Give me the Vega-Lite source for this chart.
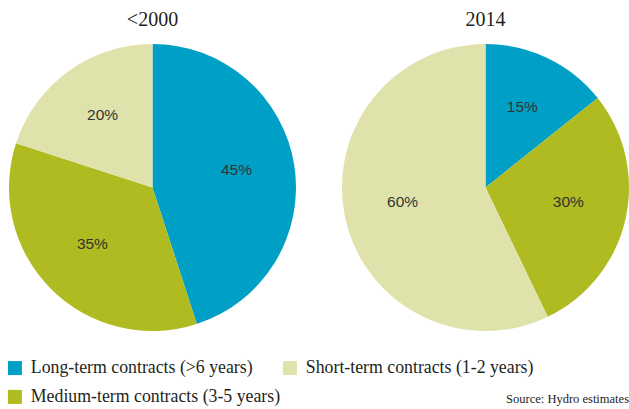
{
  "$schema": "https://vega.github.io/schema/vega-lite/v6.json",
  "background": "white",
  "padding": {"left": 6, "top": 10, "right": 0, "bottom": 0},
  "data": {"values": [
    {"period": "<2000", "category": "Long-term contracts (>6 years)", "value": 45, "label": "45%", "order": 1},
    {"period": "<2000", "category": "Medium-term contracts (3-5 years)", "value": 35, "label": "35%", "order": 2},
    {"period": "<2000", "category": "Short-term contracts (1-2 years)", "value": 20, "label": "20%", "order": 3},
    {"period": "2014", "category": "Long-term contracts (>6 years)", "value": 15, "label": "15%", "order": 1},
    {"period": "2014", "category": "Medium-term contracts (3-5 years)", "value": 30, "label": "30%", "order": 2},
    {"period": "2014", "category": "Short-term contracts (1-2 years)", "value": 60, "label": "60%", "order": 3}
  ]},
  "title": {"text": "Source: Hydro estimates", "orient": "bottom", "anchor": "end", "font": "Liberation Serif", "fontSize": 12.5, "fontWeight": "normal", "color": "#231f20", "offset": -13},
  "facet": {"column": {"field": "period", "type": "nominal", "sort": ["<2000", "2014"],
    "header": {"title": null, "labelFont": "Liberation Serif", "labelFontSize": 20, "labelColor": "#231f20", "labelPadding": 14}}},
  "spacing": 46,
  "resolve": {"scale": {"theta": "independent"}},
  "spec": {
    "width": 287,
    "height": 287,
    "encoding": {
      "theta": {"field": "value", "type": "quantitative", "stack": true},
      "order": {"field": "order", "type": "quantitative"}
    },
    "layer": [
      {"mark": {"type": "arc", "outerRadius": 143.5, "strokeWidth": 0},
       "encoding": {"color": {"field": "category", "type": "nominal",
         "scale": {"domain": ["Long-term contracts (>6 years)", "Short-term contracts (1-2 years)", "Medium-term contracts (3-5 years)"], "range": ["#00a0c6", "#dfe3ab", "#afbb20"]},
         "legend": {"title": null, "orient": "none", "legendX": -3, "legendY": 315, "direction": "horizontal", "columns": 2, "gridAlign": "each", "columnPadding": -26, "rowPadding": 10,
           "symbolType": "square", "symbolSize": 196, "symbolStrokeWidth": 0, "labelFont": "Liberation Serif", "labelFontSize": 17.8, "labelColor": "#231f20", "labelOffset": 7, "labelLimit": 400}}}},
      {"mark": {"type": "text", "radius": 85, "dy": -4, "font": "Liberation Sans", "fontSize": 15.5, "fill": "#333333"},
       "encoding": {"text": {"field": "label"}}}
    ]
  },
  "config": {"view": {"stroke": null}}
}
